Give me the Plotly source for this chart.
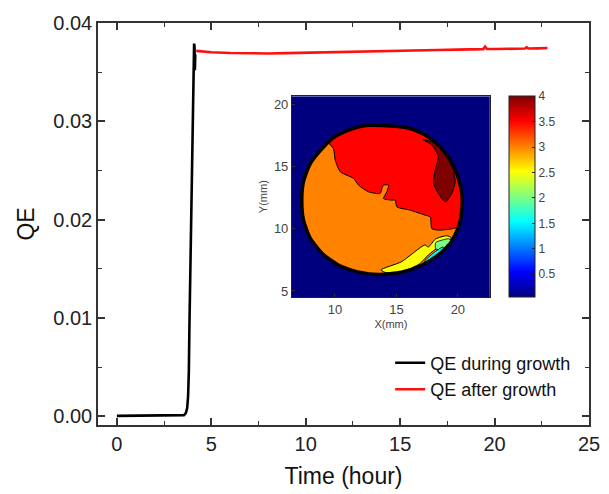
import plotly.graph_objects as go
from plotly.colors import sample_colorscale

# ---------------- main chart data ----------------
t_growth = [0.0, 0.5, 1.0, 1.5, 2.0, 2.5, 3.0, 3.4, 3.55, 3.65, 3.72, 3.77, 3.81,
            3.84, 3.9, 3.97, 4.04, 4.09, 4.11, 4.13, 4.15]
qe_growth = [0.00003, 0.00003, 0.00003, 0.00003, 0.00003, 0.00003, 0.00004, 0.00006,
             0.0001, 0.0003, 0.0008, 0.0020, 0.0045, 0.0090, 0.0170, 0.0250, 0.0330,
             0.0379, 0.0376, 0.0352, 0.0368]

t_after = [4.2, 4.6, 5.0, 6.0, 7.0, 8.0, 9.0, 10.0, 11.0, 12.0, 13.0, 14.0, 15.0, 16.0,
           17.0, 18.0, 19.0, 19.4, 19.5, 19.6, 20.0, 21.0, 21.6, 21.7, 21.8, 22.3, 22.8]
qe_after = [0.03716, 0.03708, 0.03702, 0.03695, 0.03691, 0.03690, 0.03693, 0.03698,
            0.03702, 0.03706, 0.03711, 0.03715, 0.03719, 0.03722, 0.03726, 0.03729,
            0.03732, 0.03734, 0.03760, 0.03736, 0.03735, 0.03738, 0.03740, 0.03752,
            0.03740, 0.03742, 0.03745]

x_ticks = [0, 5, 10, 15, 20, 25]
y_ticks = [0.00, 0.01, 0.02, 0.03, 0.04]

# ---------------- inset map data (region outlines in mm) ----------------
scan_x_edges = [6.5, 22.6]
scan_y_edges = [4.5, 20.7]
background_level = 0.05

rim_x = [13.82, 15.95, 17.27, 18.33, 19.26, 19.93, 20.33, 20.33, 20.07, 19.41, 18.33, 17.01,
         15.41, 13.56, 11.96, 10.36, 9.03, 7.97, 7.43, 7.30, 7.43, 7.97, 8.77, 9.83, 11.15,
         12.47, 13.82]
rim_y = [18.33, 18.13, 17.61, 16.82, 15.75, 14.44, 12.84, 11.53, 10.21, 8.89, 7.84, 7.05,
         6.51, 6.32, 6.51, 7.04, 7.96, 9.29, 10.74, 12.32, 13.77, 15.22, 16.27, 17.33, 17.99,
         18.34, 18.33]
orange_level = 3.0

red_x = [9.50, 9.89, 10.02, 10.43, 11.51, 11.92, 12.73, 13.68, 13.82, 13.95, 14.36, 14.22,
         13.95, 14.63, 14.90, 15.04, 16.12, 17.34, 17.75, 17.88, 18.42, 19.64, 20.07, 20.33,
         20.33, 19.93, 19.26, 18.33, 17.27, 15.95, 13.82, 12.47, 11.15, 9.83, 9.50]
red_y = [16.95, 16.45, 15.55, 14.61, 14.07, 13.53, 12.99, 12.86, 13.26, 13.53, 13.53, 12.99,
         12.45, 12.32, 12.32, 11.78, 11.51, 11.11, 10.97, 10.03, 9.90, 10.03, 10.21, 11.53,
         12.84, 14.44, 15.75, 16.82, 17.61, 18.13, 18.33, 18.34, 17.99, 17.33, 16.95]
red_level = 3.5

darkred_x = [17.20, 17.88, 18.42, 18.15, 18.02, 18.42, 18.97, 19.51, 19.78, 19.64, 19.24,
             18.56, 17.88, 17.20]
darkred_y = [17.17, 16.77, 15.82, 14.74, 13.67, 12.86, 12.18, 12.86, 13.80, 14.74, 15.55,
             16.50, 17.04, 17.17]
darkred_level = 4.0

yellow_x = [13.75, 15.40, 17.30, 17.60, 18.20, 19.10, 19.45, 19.30, 18.50, 17.60, 16.90,
            15.50, 14.20, 13.75]
yellow_y = [6.70, 7.35, 8.70, 8.55, 9.20, 9.45, 9.30, 9.00, 8.60, 7.90, 7.20, 6.55, 6.45,
            6.70]
yellow_level = 2.5

green_x = [18.20, 19.30, 19.45, 18.70, 18.20, 18.20]
green_y = [8.90, 9.20, 8.95, 8.30, 8.40, 8.90]
green_level = 2.0

cyan_x = [17.30, 18.20, 18.80, 18.90, 18.20, 17.50, 17.30]
cyan_y = [7.40, 8.20, 8.55, 8.30, 7.70, 7.20, 7.40]
cyan_level = 1.5

cbar_ticks = [0.5, 1, 1.5, 2, 2.5, 3, 3.5, 4]
cbar_labels = ["0.5", "1", "1.5", "2", "2.5", "3", "3.5", "4"]
cbar_min, cbar_max = 0.05, 4.0

jet = [[0.0, "#00007F"], [0.125, "#0000FF"], [0.375, "#00FFFF"],
       [0.625, "#FFFF00"], [0.875, "#FF0000"], [1.0, "#7F0000"]]


def level_color(v):
    return sample_colorscale(jet, [(v - cbar_min) / (cbar_max - cbar_min)])[0]


fig = go.Figure()

fig.add_trace(go.Scatter(x=t_growth, y=qe_growth, mode="lines", name="QE during growth",
                         line=dict(color="black", width=2.6), hoverinfo="skip"))
fig.add_trace(go.Scatter(x=t_after, y=qe_after, mode="lines", name="QE after growth",
                         line=dict(color="#FF1010", width=2.6), hoverinfo="skip"))

# background of the scan (single cell) + continuous jet colour bar
fig.add_trace(go.Heatmap(
    x=scan_x_edges, y=scan_y_edges, z=[[background_level]], xaxis="x2", yaxis="y2",
    colorscale=jet, zmin=cbar_min, zmax=cbar_max, showscale=True, hoverinfo="skip",
    colorbar=dict(x=0.837, xanchor="left", xpad=0, y=0.318, yanchor="bottom",
                  ypad=0, len=0.5, lenmode="fraction", thickness=26,
                  outlinecolor="#222", outlinewidth=1,
                  tickvals=cbar_ticks, ticktext=cbar_labels,
                  ticks="inside", ticklen=3, tickcolor="#222",
                  tickfont=dict(family="Arial, Liberation Sans", size=12, color="#444"))))

regions = [
    (rim_x, rim_y, orange_level, 1.0),
    (red_x, red_y, red_level, 1.0),
    (darkred_x, darkred_y, darkred_level, 1.0),
    (yellow_x, yellow_y, yellow_level, 1.0),
    (green_x, green_y, green_level, 0.8),
    (cyan_x, cyan_y, cyan_level, 0.8),
]
for xs, ys, lvl, lw in regions:
    fig.add_trace(go.Scatter(
        x=xs, y=ys, xaxis="x2", yaxis="y2", mode="lines", fill="toself",
        fillcolor=level_color(lvl), line=dict(color="black", width=lw, shape="spline",
                                              smoothing=0.6),
        showlegend=False, hoverinfo="skip"))

# thick dark rim around the wafer
fig.add_trace(go.Scatter(
    x=rim_x, y=rim_y, xaxis="x2", yaxis="y2", mode="lines",
    line=dict(color="black", width=3.5, shape="spline", smoothing=0.6),
    showlegend=False, hoverinfo="skip"))

axis_font = dict(family="Arial, Liberation Sans", size=20, color="#222")
title_font = dict(family="Arial, Liberation Sans", size=23, color="#111")

# the page body keeps its default 8 px margin, so the figure is 8 px smaller
fig.update_layout(
    width=601, height=486,
    margin=dict(l=90, r=20, t=15, b=69, autoexpand=False),
    paper_bgcolor="white", plot_bgcolor="white",
    showlegend=True,
    legend=dict(x=0.595, y=0.20, xanchor="left", yanchor="top",
                bgcolor="rgba(0,0,0,0)", borderwidth=0,
                font=dict(family="Arial, Liberation Sans", size=18, color="#111"),
                tracegroupgap=0),
    xaxis=dict(range=[-1, 25], tickvals=x_ticks, ticks="inside", ticklen=7, tickwidth=1.5,
               tickcolor="#333", showline=True, linecolor="#333", linewidth=1.5,
               mirror="allticks", showgrid=False, zeroline=False, tickfont=axis_font,
               automargin=False,
               minor=dict(dtick=2.5, tick0=0, ticks="inside", ticklen=4, tickwidth=1.2,
                          tickcolor="#333", showgrid=False),
               title=dict(text="Time (hour)", font=title_font, standoff=14)),
    yaxis=dict(range=[-0.0009, 0.04], tickvals=y_ticks, tickformat=".2f", ticks="inside",
               ticklen=7, tickwidth=1.5, tickcolor="#333", showline=True, linecolor="#333",
               linewidth=1.5, mirror="allticks", showgrid=False, zeroline=False,
               tickfont=axis_font, automargin=False,
               minor=dict(dtick=0.005, tick0=0, ticks="inside", ticklen=4, tickwidth=1.2,
                          tickcolor="#333", showgrid=False),
               title=dict(text="QE", font=title_font, standoff=12)),
    xaxis2=dict(domain=[0.395, 0.798], anchor="y2", range=[6.5, 22.6], tickvals=[10, 15, 20],
                ticks="inside", ticklen=3, tickcolor="#333", showline=True, linecolor="#222",
                linewidth=1, mirror=True, showgrid=False, zeroline=False, automargin=False,
                tickfont=dict(family="Arial, Liberation Sans", size=13, color="#444"),
                title=dict(text="X(mm)", font=dict(family="Arial, Liberation Sans", size=11,
                                                    color="#444"), standoff=4)),
    yaxis2=dict(domain=[0.318, 0.818], anchor="x2", range=[4.5, 20.7],
                tickvals=[5, 10, 15, 20], ticks="inside", ticklen=3, tickcolor="#333",
                showline=True, linecolor="#222", linewidth=1, mirror=True, showgrid=False,
                zeroline=False, automargin=False,
                tickfont=dict(family="Arial, Liberation Sans", size=13, color="#444"),
                title=dict(text="Y(mm)", font=dict(family="Arial, Liberation Sans", size=11,
                                                    color="#444"), standoff=4)),
)

fig.write_html("out.html")
